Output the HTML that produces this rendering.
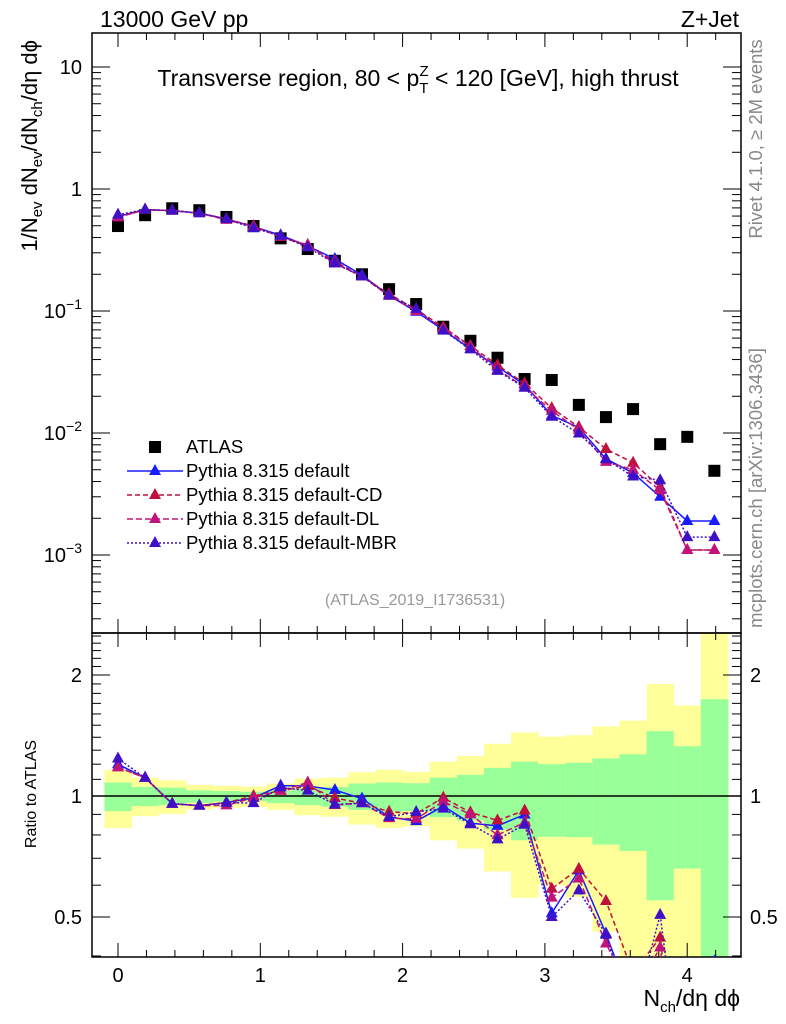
<!DOCTYPE html>
<html><head><meta charset="utf-8">
<style>
html,body{margin:0;padding:0;background:#fff;overflow:hidden;width:786px;height:1024px;}
svg{display:block;}
svg text{font-family:"Liberation Sans",sans-serif;}
</style></head>
<body>
<svg id="chart" width="786" height="1024" xmlns="http://www.w3.org/2000/svg">
<defs>
<clipPath id="cm"><rect x="92" y="33" width="649" height="600"/></clipPath>
<clipPath id="cr"><rect x="92" y="633" width="649" height="324"/></clipPath>
</defs>
<g id="bands" clip-path="url(#cr)"></g>
<g id="frames"></g>
<g id="marksMain" clip-path="url(#cm)"></g>
<g id="marksRatio" clip-path="url(#cr)"></g>
<g id="labels">
<text x="100" y="27" font-size="23">13000 GeV pp</text>
<text x="739" y="27" font-size="23" text-anchor="end">Z+Jet</text>
<text x="418" y="86" font-size="23" text-anchor="middle">Transverse region, 80 &lt; p<tspan font-size="15" dy="7">T</tspan><tspan font-size="15" dx="-9" dy="-17">Z</tspan><tspan dy="10"> &lt; 120 [GeV], high thrust</tspan></text>
<text transform="translate(762,139) rotate(-90)" font-size="18.5" fill="#888" text-anchor="middle">Rivet 4.1.0, ≥ 2M events</text>
<text transform="translate(762,488) rotate(-90)" font-size="18.5" fill="#888" text-anchor="middle">mcplots.cern.ch [arXiv:1306.3436]</text>
<text x="415" y="605" font-size="16" fill="#999" text-anchor="middle">(ATLAS_2019_I1736531)</text>
<text transform="translate(37,40) rotate(-90)" font-size="22" text-anchor="end">1/N<tspan font-size="15" dy="5">ev</tspan><tspan dy="-5"> dN</tspan><tspan font-size="15" dy="5">ev</tspan><tspan dy="-5">/dN</tspan><tspan font-size="15" dy="5">ch</tspan><tspan dy="-5">/dη dϕ</tspan></text>
<text transform="translate(36,794) rotate(-90)" font-size="16" text-anchor="middle">Ratio to ATLAS</text>
<text x="740" y="1006" font-size="23" text-anchor="end">N<tspan font-size="15" dy="6">ch</tspan><tspan dy="-6">/dη dϕ</tspan></text>
</g>
<g id="legend"></g>
</svg>
<script>
const xs = [0,1,2,3,4,5,6,7,8,9,10,11,12,13,14,15,16,17,18,19,20,21,22];
const binWidth = 0.1905;
const atlas = [0.497,0.61,0.695,0.67,0.59,0.497,0.394,0.322,0.258,0.2,0.151,0.114,0.0743,0.057,0.0414,0.0277,0.0272,0.017,0.0135,0.0157,0.0081,0.0093,0.0049];
const pyDefault = [0.596,0.677,0.665,0.634,0.568,0.492,0.418,0.341,0.267,0.197,0.134,0.0987,0.0701,0.0488,0.0349,0.0249,0.0139,0.0111,0.00614,0.0047,0.0030,0.0019,0.0019];
const pyCD = [0.586,0.677,0.665,0.634,0.568,0.497,0.406,0.341,0.255,0.192,0.138,0.103,0.0736,0.0519,0.036,0.0255,0.016,0.0112,0.0074,0.0057,0.0036,0.0011,0.0011];
const pyDL = [0.586,0.677,0.665,0.634,0.559,0.492,0.406,0.348,0.245,0.192,0.133,0.1,0.072,0.0513,0.0331,0.0238,0.0152,0.0106,0.0058,0.0050,0.0034,0.0011,0.0011];
const pyMBR = [0.616,0.677,0.665,0.634,0.568,0.477,0.414,0.332,0.246,0.192,0.134,0.104,0.0691,0.0485,0.0323,0.0235,0.0136,0.0099,0.0061,0.0044,0.0041,0.0014,0.0014];
const yelHi = [1.16,1.11,1.094,1.066,1.06,1.055,1.074,1.105,1.111,1.146,1.162,1.148,1.217,1.257,1.349,1.438,1.405,1.416,1.49,1.54,1.9,1.68,3];
const yelLo = [0.833,0.891,0.903,0.926,0.935,0.939,0.924,0.896,0.888,0.849,0.833,0.841,0.776,0.74,0.649,0.558,0.6,0.56,0.46,0.3,0.3,0.3,0.3];
const grnHi = [1.08,1.053,1.049,1.033,1.029,1.025,1.033,1.043,1.053,1.074,1.08,1.076,1.111,1.129,1.175,1.217,1.2,1.21,1.24,1.27,1.45,1.33,1.74];
const grnLo = [0.917,0.944,0.949,0.962,0.968,0.972,0.96,0.949,0.94,0.923,0.914,0.917,0.886,0.869,0.825,0.776,0.792,0.79,0.757,0.73,0.55,0.66,0.3];
const mainTicks = ["10","1","10^-1","10^-2","10^-3"];
const mainTickVals = [10,1,0.1,0.01,0.001];
const xTickLabels = ["0","1","2","3","4"];
const ratioTickLabels = ["2","1","0.5"];
const ratioTickVals = [2,1,0.5];

const NS="http://www.w3.org/2000/svg";
const X = v => 118 + 142.3*v;
const Y = v => 189 - 122*Math.log10(v);
const R = r => 796 - 402*Math.log10(r);
function mk(tag, attrs, parent){const e=document.createElementNS(NS,tag);for(const k in attrs)e.setAttribute(k,attrs[k]);parent.appendChild(e);return e;}
const gB=document.getElementById('bands'), gF=document.getElementById('frames'), gM=document.getElementById('marksMain'), gR=document.getElementById('marksRatio'), gL=document.getElementById('legend');

xs.forEach((i,k)=>{
  const x0=X((i-0.5)*binWidth), x1=X((i+0.5)*binWidth);
  let r=mk('rect',{x:x0,y:R(yelHi[k]),width:x1-x0+0.5,height:R(yelLo[k])-R(yelHi[k]),fill:'#ffff99'},gB);
  
  
  r=mk('rect',{x:x0,y:R(grnHi[k]),width:x1-x0+0.5,height:R(grnLo[k])-R(grnHi[k]),fill:'#99ff99'},gB);
  
  
});
mk('line',{x1:92,x2:741,y1:R(1),y2:R(1),stroke:'#000','stroke-width':1.5},gB);

let fr=mk('rect',{x:92,y:33,width:649,height:600,fill:'none',stroke:'#000','stroke-width':1.5},gF);


fr=mk('rect',{x:92,y:633,width:649,height:324,fill:'none',stroke:'#000','stroke-width':1.5},gF);



for(let v=-0.2; v<=4.31; v+=0.2){
  const vv=Math.round(v*10)/10, maj=Math.abs(vv-Math.round(vv))<1e-6, L=maj?14:7, x=X(vv);
  if(x<92||x>741) continue;
  [[33,1],[633,-1],[633,1],[957,-1]].forEach(([y,d])=>mk('line',{x1:x,x2:x,y1:y,y2:y+d*L,stroke:'#000','stroke-width':1},gF));
}
xTickLabels.forEach((t,k)=>{
  const e=mk('text',{x:X(k),y:982,'font-size':20,'text-anchor':'middle'},gF); e.textContent=t;
  
  
});
for(let d=-4; d<=1; d++){
  for(let m=1;m<=9;m++){
    const v=m*Math.pow(10,d), y=Y(v); if(y<33||y>633) continue;
    const L=m===1?18:9;
    mk('line',{x1:92,x2:92+L,y1:y,y2:y,stroke:'#000'},gF);
    mk('line',{x1:741,x2:741-L,y1:y,y2:y,stroke:'#000'},gF);
  }
}
mainTicks.forEach((t,k)=>{
  const y=Y(mainTickVals[k])+7;
  const e=mk('text',{x:82,y:y,'font-size':20,'text-anchor':'end'},gF);
  const p=t.split('^');
  if(p.length===1){e.textContent=t;}
  else{ e.textContent=p[0]; const s=mk('tspan',{dy:-9,'font-size':14},e); s.textContent=p[1].replace('-','−'); }
  
  
});
const rt=[0.4,0.5,0.6,0.7,0.8,0.9,1,1.1,1.2,1.3,1.4,1.5,1.6,1.7,1.8,1.9,2,2.1,2.2,2.3,2.4,2.5];
rt.forEach(v=>{const y=R(v); if(y<633||y>957)return; const maj=(v===0.5||v===1||v===2), L=maj?18:9;
  mk('line',{x1:92,x2:92+L,y1:y,y2:y,stroke:'#000'},gF); mk('line',{x1:741,x2:741-L,y1:y,y2:y,stroke:'#000'},gF);});
ratioTickLabels.forEach((t,k)=>{
  const y=R(ratioTickVals[k])+7;
  let e=mk('text',{x:82,y:y,'font-size':20,'text-anchor':'end'},gF); e.textContent=t;
  
  
  e=mk('text',{x:750,y:y,'font-size':20},gF); e.textContent=t;
  
  
});

xs.forEach((i,k)=>{
  const s=mk('rect',{x:X(i*binWidth)-6,y:Y(atlas[k])-6,width:12,height:12,fill:'#000'},gM);
  
  
});
const series=[
  {name:'pythia-default',data:pyDefault,color:'#1a1aff',dash:'',label:'Pythia 8.315 default'},
  {name:'pythia-default-cd',data:pyCD,color:'#c0103c',dash:'5,3',label:'Pythia 8.315 default-CD'},
  {name:'pythia-default-dl',data:pyDL,color:'#c0147a',dash:'6,3',label:'Pythia 8.315 default-DL'},
  {name:'pythia-default-mbr',data:pyMBR,color:'#4010c8',dash:'2,2',label:'Pythia 8.315 default-MBR'}
];
function tri(g,x,y,c){return mk('polygon',{points:`${x},${y-7} ${x-6},${y+4} ${x+6},${y+4}`,fill:c},g);}
series.forEach(s=>{
  const pm=xs.map((i,k)=>`${X(i*binWidth)},${Y(s.data[k])}`).join(' ');
  const pl=mk('polyline',{points:pm,fill:'none',stroke:s.color,'stroke-width':1.5,'stroke-dasharray':s.dash},gM);
  
  
  const pr=xs.map((i,k)=>`${X(i*binWidth)},${R(s.data[k]/atlas[k])}`).join(' ');
  const rl=mk('polyline',{points:pr,fill:'none',stroke:s.color,'stroke-width':1.5,'stroke-dasharray':s.dash},gR);
  
  
  xs.forEach((i,k)=>{
    const t=tri(gM,X(i*binWidth),Y(s.data[k]),s.color);
    
    
    const t2=tri(gR,X(i*binWidth),R(s.data[k]/atlas[k]),s.color);
    
    
  });
});
const ly=[447,471,495,519,543];
let sq=mk('rect',{x:149,y:ly[0]-6,width:12,height:12,fill:'#000'},gL);


let lt=mk('text',{x:186,y:ly[0]+6,'font-size':18.5},gL); lt.textContent='ATLAS';


series.forEach((s,k)=>{
  const y=ly[k+1];
  mk('line',{x1:127,x2:183,y1:y,y2:y,stroke:s.color,'stroke-width':1.5,'stroke-dasharray':s.dash},gL);
  tri(gL,155,y,s.color);
  const t=mk('text',{x:186,y:y+6,'font-size':18.5},gL); t.textContent=s.label;
  
  
});
</script>
</body></html>
